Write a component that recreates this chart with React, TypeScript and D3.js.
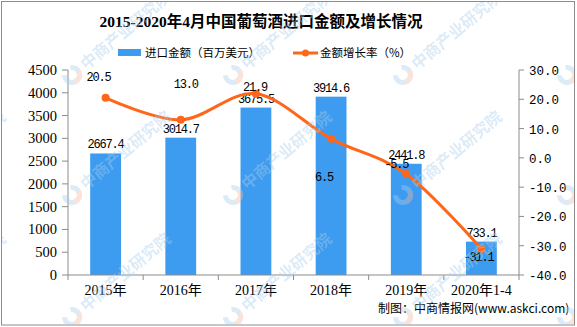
import React from "react";
import * as d3 from "d3";

const categories = ["2015年", "2016年", "2017年", "2018年", "2019年", "2020年1-4"];
const amounts = [2667.4, 3014.7, 3675.5, 3914.6, 2441.8, 733.1];
const growth = [20.5, 13.0, 21.9, 6.5, -5.5, -31.1];
const leftTicks = [0, 500, 1000, 1500, 2000, 2500, 3000, 3500, 4000, 4500];
const rightTicks = [-40, -30, -20, -10, 0, 10, 20, 30];
// label offsets for growth labels (dx, dy from point)
const growthLabelDx = [-7, 5, -1, -7, -10, -3];
const growthLabelDy = [-21, -36, -7, 38, -10, 8];
const watermarkText = "中商产业研究院";
const watermarkCols = [-93, 72, 233, 403, 567];
const watermarkRows = [75, 195, 317];

const W = 577;
const H = 327;
const M = { left: 68, right: 519, top: 70, bottom: 275 };
const BLUE = "#3d9cf0";
const ORANGE = "#ff661a";
const AXIS = "#8c8c8c";
const CJK = "'Noto Sans CJK SC', sans-serif";
const SERIF = "'Liberation Serif', 'Noto Sans CJK SC', serif";
const MONO = "'Liberation Mono', monospace";

function Watermark({ x, y }: { x: number; y: number }) {
  const arc = d3.arc()({ innerRadius: 5, outerRadius: 10, startAngle: 0.5, endAngle: Math.PI * 2 - 0.9 } as any) || "";
  const arc2 = d3.arc()({ innerRadius: 5, outerRadius: 10, startAngle: Math.PI * 0.55, endAngle: Math.PI * 1.1 } as any) || "";
  return (
    <g transform={`translate(${x},${y}) rotate(-40)`}>
      <path d={arc} fill="#a8cdea" />
      <path d={arc2} fill="#f6b8a0" />
      <text x={14} y={6} fontFamily={CJK} fontWeight="bold" fontSize={16} fill="#a8cdea">
        {watermarkText}
      </text>
    </g>
  );
}

export default function App() {
  const x = d3.scaleBand().domain(categories).range([M.left, M.right]).paddingInner(0.59).paddingOuter(0.295);
  const xb = d3.scaleBand().domain(categories).range([M.left, M.right]);
  const yL = d3.scaleLinear().domain([0, 4500]).range([M.bottom, M.top]);
  const yR = d3.scaleLinear().domain([-40, 30]).range([M.bottom, M.top]);
  const cx = (c: string) => (xb(c) as number) + xb.bandwidth() / 2;
  const line = d3
    .line<number>()
    .x((_, i) => cx(categories[i]))
    .y((d) => yR(d))
    .curve(d3.curveCardinal.tension(0));
  const boundaries = categories.map((c) => xb(c) as number).concat([M.right]);

  return (
    <svg width={W} height={H} style={{ position: "absolute", left: 0, top: 0, background: "#fff" }}>
      <defs>
        <clipPath id="frame">
          <rect x={2} y={2} width={572} height={322.5} />
        </clipPath>
      </defs>
      <rect x={1.5} y={1.5} width={573} height={323.5} fill="#fff" stroke={AXIS} strokeWidth={1} />
      <text x={261} y={27} textAnchor="middle" fontFamily={SERIF} fontWeight="bold" fontSize={15.5} fill="#000">
        2015-2020年4月中国葡萄酒进口金额及增长情况
      </text>
      {/* legend */}
      <rect x={118} y={49} width={23} height={7} fill={BLUE} />
      <text x={145} y={57} fontFamily={CJK} fontSize={11.5} fill="#000">进口金额（百万美元）</text>
      <line x1={293} x2={318} y1={53} y2={53} stroke={ORANGE} strokeWidth={3} />
      <circle cx={305.5} cy={53} r={3.5} fill={ORANGE} />
      <text x={320} y={57} fontFamily={CJK} fontSize={11.5} fill="#000">金额增长率（%）</text>

      {/* bars */}
      {amounts.map((v, i) => (
        <rect key={i} x={x(categories[i])} y={yL(v)} width={x.bandwidth()} height={M.bottom - yL(v)} fill={BLUE} />
      ))}

      {/* axes */}
      <line x1={M.left} x2={M.left} y1={M.top} y2={M.bottom} stroke={AXIS} />
      {leftTicks.map((t) => (
        <g key={t}>
          <line x1={M.left - 6} x2={M.left} y1={yL(t)} y2={yL(t)} stroke={AXIS} />
          <text x={M.left - 11} y={yL(t) + 5} textAnchor="end" fontFamily={SERIF} fontSize={14.5} fill="#000">
            {t}
          </text>
        </g>
      ))}
      <line x1={M.right} x2={M.right} y1={M.top} y2={M.bottom} stroke={AXIS} />
      {rightTicks.map((t) => (
        <g key={t}>
          <line x1={M.right} x2={M.right + 5} y1={yR(t)} y2={yR(t)} stroke={AXIS} />
          <text x={M.right + 10} y={yR(t) + 5} fontFamily={MONO} fontSize={12.5} fill="#000">
            {t.toFixed(1)}
          </text>
        </g>
      ))}
      <line x1={M.left} x2={M.right} y1={M.bottom} y2={M.bottom} stroke={AXIS} />
      {boundaries.map((b, i) => (
        <line key={i} x1={b} x2={b} y1={M.bottom} y2={M.bottom + 5} stroke={AXIS} />
      ))}
      {categories.map((c) => (
        <text key={c} x={cx(c)} y={295} textAnchor="middle" fontFamily={SERIF} fontSize={14} fill="#000">
          {c}
        </text>
      ))}

      {/* bar labels */}
      {amounts.map((v, i) => (
        <text key={i} x={cx(categories[i])} y={yL(v) - 5} textAnchor="middle" fontFamily={MONO} fontSize={12} letterSpacing={-1.2} fill="#000">
          {v.toFixed(1)}
        </text>
      ))}

      {/* line */}
      <path d={line(growth) || ""} fill="none" stroke={ORANGE} strokeWidth={3} />
      {growth.map((v, i) => (
        <circle key={i} cx={cx(categories[i])} cy={yR(v)} r={4} fill={ORANGE} />
      ))}
      {growth.map((v, i) => (
        <text key={i} x={cx(categories[i]) + growthLabelDx[i]} y={yR(v) + growthLabelDy[i] + 4} textAnchor="middle" fontFamily={MONO} fontSize={12} letterSpacing={-1.2} fill="#000">
          {v.toFixed(1)}
        </text>
      ))}

      <text x={378} y={313} fontFamily={CJK} fontSize={12} fill="#000">
        制图：中商情报网(www.askci.com)
      </text>

      {/* watermarks */}
      <g opacity={0.4} clipPath="url(#frame)">
        {watermarkRows.map((wy) =>
          watermarkCols.map((wx) => <Watermark key={`${wx}-${wy}`} x={wx} y={wy} />)
        )}
      </g>
    </svg>
  );
}
